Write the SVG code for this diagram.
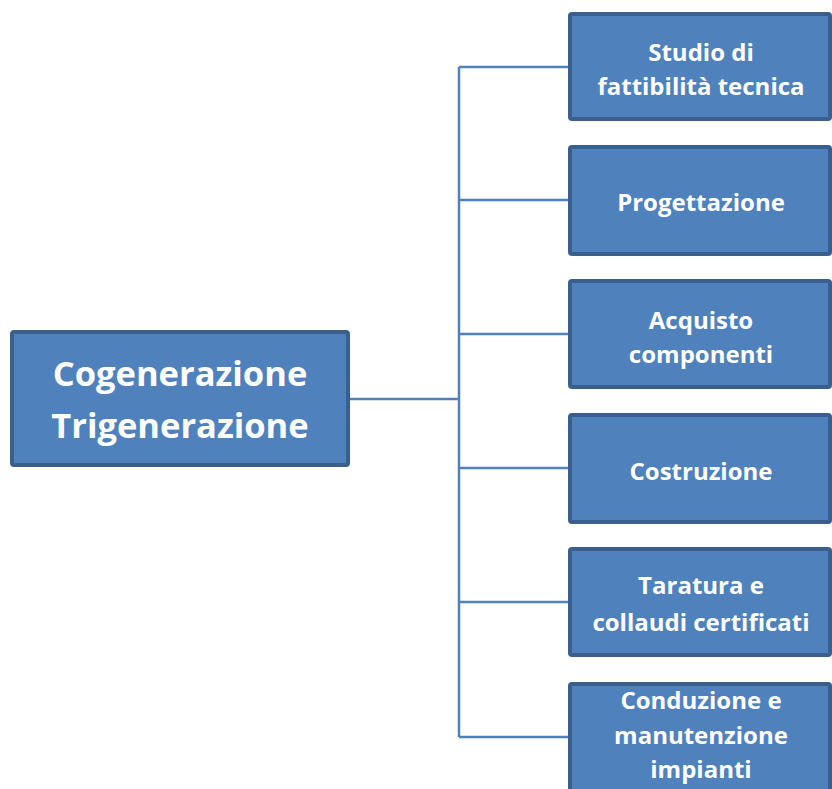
<svg xmlns="http://www.w3.org/2000/svg" width="832" height="789" viewBox="0 0 832 789">
<style>
.box{fill:#4F81BD;stroke:#3A5F8D;stroke-width:4}
.t{font-family:"Open Sans","Liberation Sans",sans-serif;font-weight:bold;fill:#FFFFFF;text-anchor:middle}
.s{font-size:24px}
.m{font-size:34.5px}
.c{fill:none;stroke:#4F81BD;stroke-width:2.5}
</style>
<rect width="832" height="789" fill="#FFFFFF"/>
<g id="connectors">
<path class="c" d="M350 399 H459 M459 67 V737 M459 67 H569 M459 200 H569 M459 334 H569 M459 468 H569 M459 602 H569 M459 737 H569"/>
</g>
<g id="main">
<rect class="box" x="12" y="332" width="336" height="133" rx="2"/>
<text class="t m" x="180" y="386">Cogenerazione</text>
<text class="t m" x="180" y="438">Trigenerazione</text>
</g>
<g id="n1">
<rect class="box" x="570" y="14" width="260" height="105" rx="2"/>
<text class="t s" x="701" y="61">Studio di</text>
<text class="t s" x="701" y="95">fattibilità tecnica</text>
</g>
<g id="n2">
<rect class="box" x="570" y="147" width="260" height="107" rx="2"/>
<text class="t s" x="701" y="211">Progettazione</text>
</g>
<g id="n3">
<rect class="box" x="570" y="281" width="260" height="106" rx="2"/>
<text class="t s" x="701" y="329">Acquisto</text>
<text class="t s" x="701" y="363">componenti</text>
</g>
<g id="n4">
<rect class="box" x="570" y="415" width="260" height="107" rx="2"/>
<text class="t s" x="701" y="480">Costruzione</text>
</g>
<g id="n5">
<rect class="box" x="570" y="549" width="260" height="106" rx="2"/>
<text class="t s" x="701" y="594">Taratura  e</text>
<text class="t s" x="701" y="631">collaudi certificati</text>
</g>
<g id="n6">
<rect class="box" x="570" y="684" width="260" height="110" rx="2"/>
<text class="t s" x="701" y="709">Conduzione e</text>
<text class="t s" x="701" y="744">manutenzione</text>
<text class="t s" x="701" y="778">impianti</text>
</g>
</svg>
